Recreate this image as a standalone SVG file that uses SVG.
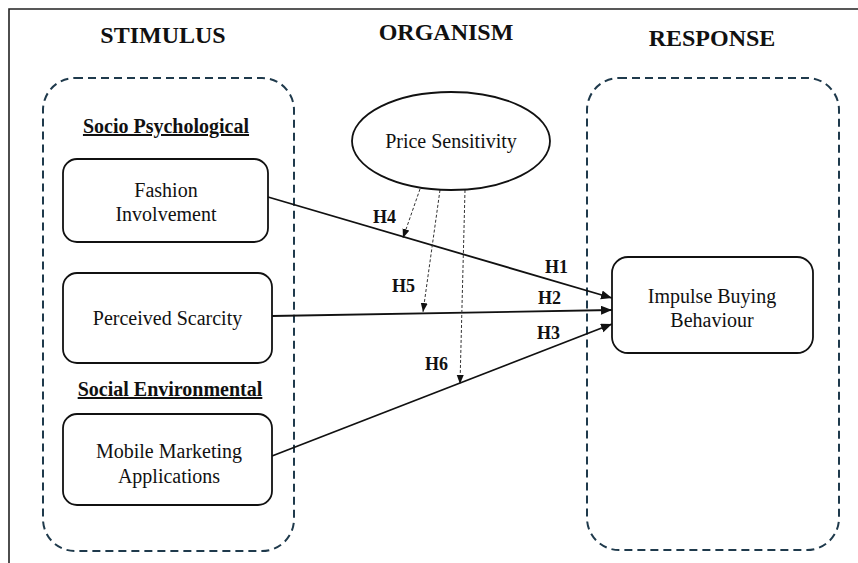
<svg xmlns="http://www.w3.org/2000/svg" width="858" height="563" viewBox="0 0 858 563">
<style>
  text { font-family: "Liberation Serif", "Times New Roman", serif; fill: #111; }
  .hdr { font-size: 24px; font-weight: bold; text-anchor: middle; }
  .sub { font-size: 20px; font-weight: bold; text-anchor: middle; text-decoration: underline; }
  .lbl { font-size: 20px; text-anchor: middle; }
  .hyp { font-size: 18px; font-weight: bold; }
  .node { fill: #fff; stroke: #111; stroke-width: 1.8; }
  .group { fill: none; stroke: #1f3a4c; stroke-width: 2; stroke-dasharray: 8 5; }
  .frame { stroke: #222; stroke-width: 1.6; fill: none; }
  .main { stroke: #111; stroke-width: 1.8; fill: none; marker-end: url(#arr); }
  .mod { stroke: #333; stroke-width: 1; stroke-dasharray: 3 2; fill: none; marker-end: url(#arrs); }
</style>
<defs>
  <marker id="arr" markerUnits="userSpaceOnUse" markerWidth="12" markerHeight="10" refX="11" refY="4.5" orient="auto">
    <path d="M0,0 L11,4.5 L0,9 z" fill="#111"/>
  </marker>
  <marker id="arrs" markerUnits="userSpaceOnUse" markerWidth="10" markerHeight="8" refX="9" refY="3.5" orient="auto">
    <path d="M0,0 L9,3.5 L0,7 z" fill="#111"/>
  </marker>
</defs>
<rect width="858" height="563" fill="#fff"/>
<path class="frame" d="M858,9 L9,9 L9,563"/>

<g id="headers">
  <text class="hdr" x="163" y="43">STIMULUS</text>
  <text class="hdr" x="446" y="40">ORGANISM</text>
  <text class="hdr" x="712" y="46">RESPONSE</text>
</g>

<g id="stimulus-group">
  <rect class="group" x="43" y="78" width="251" height="473" rx="32"/>
  <text class="sub" x="166" y="133">Socio Psychological</text>
  <text class="sub" x="170" y="396">Social Environmental</text>
</g>
<g id="response-group">
  <rect class="group" x="587" y="78" width="252" height="472" rx="32"/>
</g>

<g id="connectors">
  <line class="main" x1="268" y1="197" x2="612" y2="298"/>
  <line class="main" x1="272" y1="316" x2="612" y2="310"/>
  <line class="main" x1="272" y1="456" x2="612" y2="324"/>
  <line class="mod" x1="420" y1="189" x2="403" y2="238"/>
  <line class="mod" x1="440" y1="190" x2="423" y2="312"/>
  <line class="mod" x1="465" y1="190" x2="460" y2="384"/>
  <text class="hyp" x="373" y="223">H4</text>
  <text class="hyp" x="545" y="273">H1</text>
  <text class="hyp" x="392" y="292">H5</text>
  <text class="hyp" x="538" y="304">H2</text>
  <text class="hyp" x="537" y="339">H3</text>
  <text class="hyp" x="425" y="370">H6</text>
</g>

<g id="fashion-involvement">
  <rect class="node" x="63" y="159" width="205" height="83" rx="14"/>
  <text class="lbl" x="166" y="197">Fashion</text>
  <text class="lbl" x="166" y="221">Involvement</text>
</g>
<g id="perceived-scarcity">
  <rect class="node" x="63" y="273" width="209" height="90" rx="14"/>
  <text class="lbl" x="167.5" y="325">Perceived Scarcity</text>
</g>
<g id="mobile-marketing">
  <rect class="node" x="63" y="414" width="209" height="91" rx="14"/>
  <text class="lbl" x="169" y="458">Mobile Marketing</text>
  <text class="lbl" x="169" y="483">Applications</text>
</g>
<g id="price-sensitivity">
  <ellipse class="node" cx="451" cy="141" rx="99" ry="49" stroke-width="1.6"/>
  <text class="lbl" x="451" y="148">Price Sensitivity</text>
</g>
<g id="impulse-buying">
  <rect class="node" x="612" y="257" width="201" height="96" rx="16"/>
  <text class="lbl" x="712" y="303">Impulse Buying</text>
  <text class="lbl" x="712" y="327">Behaviour</text>
</g>
</svg>
